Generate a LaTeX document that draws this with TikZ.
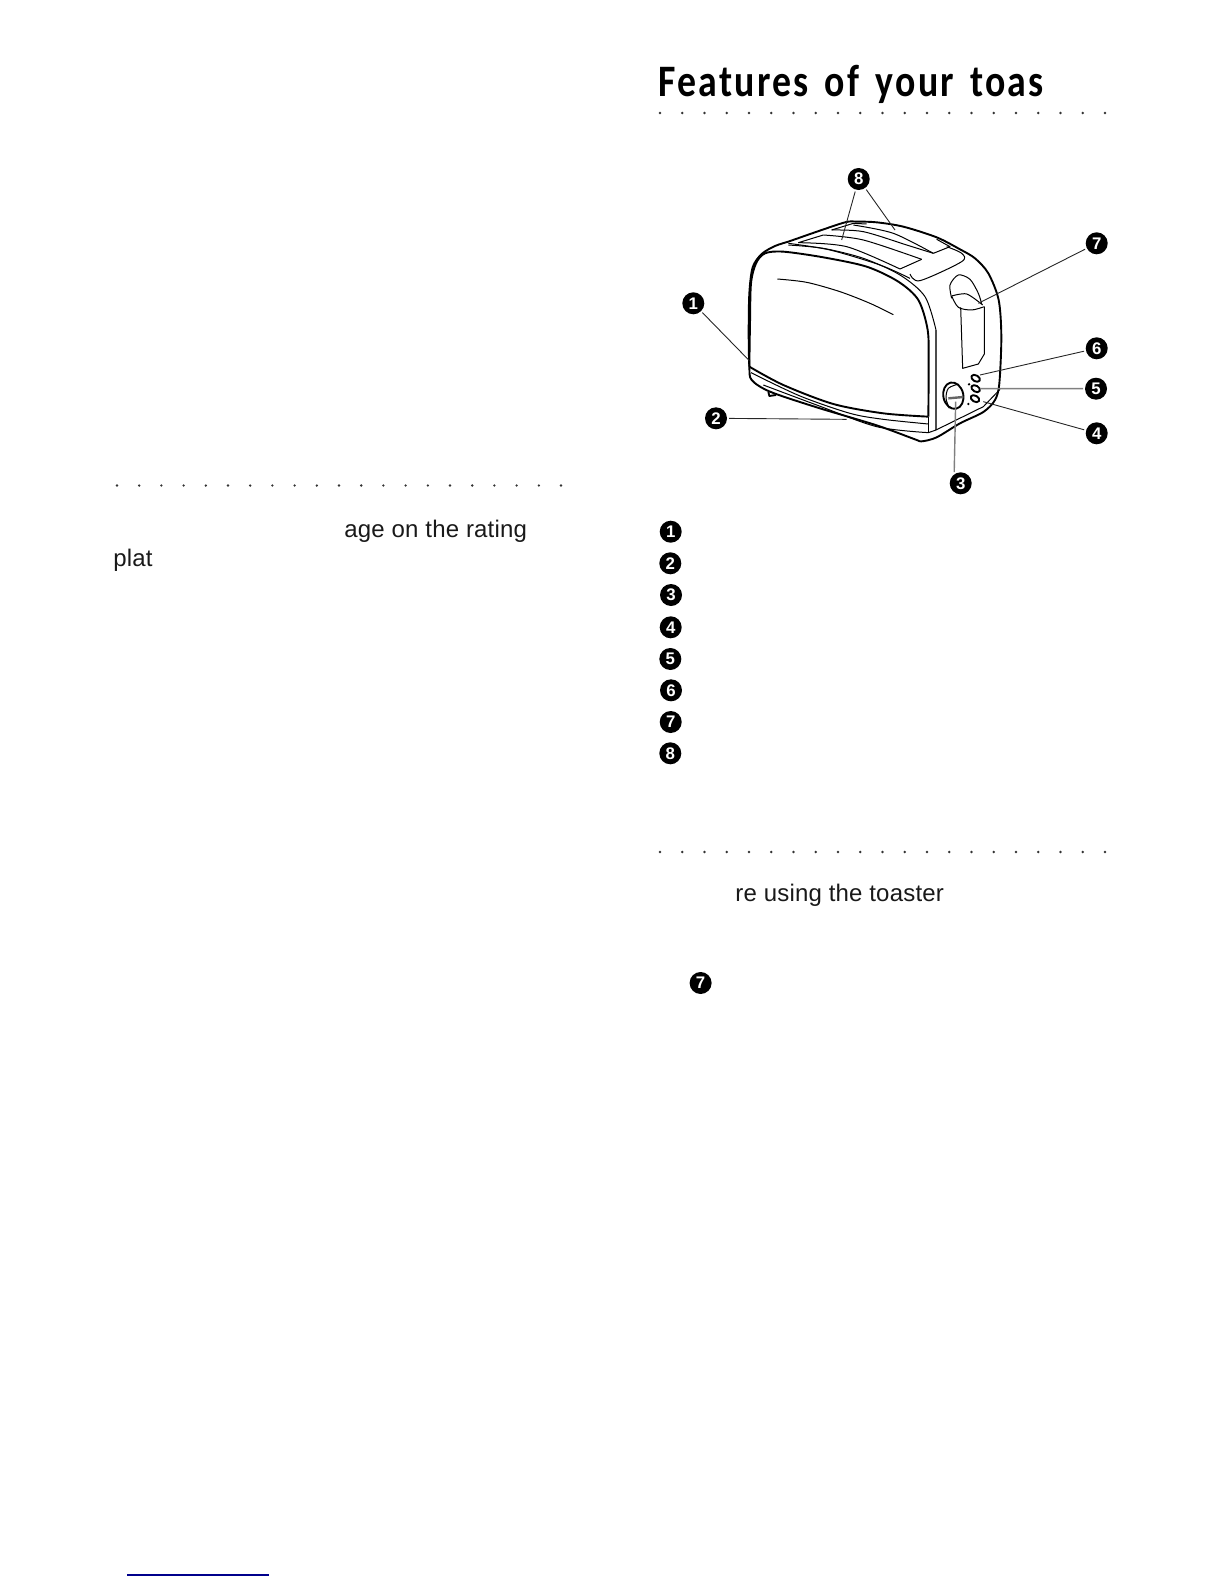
\documentclass[tikz,border=0pt]{standalone}
\usepackage{fontspec}
\setmainfont{Liberation Sans}[LetterSpace=0.8]
\newfontfamily\titlefont[LetterSpace=5,FakeStretch=0.84,WordSpace=1.5]{Carlito}
\tikzset{
  num/.style={circle,fill=black,text=white,inner sep=0pt,minimum size=11pt,outer sep=1pt,font=\bfseries\fontsize{8.4}{9}\selectfont},
  lead/.style={line width=0.45pt,black!85},
  leadgray/.style={line width=0.7pt,black!50},
  body/.style={anchor=base west,inner sep=0pt,text=black!90,font=\fontsize{12}{14}\selectfont},
  outline/.style={line width=0.95pt,line join=round},
  thinline/.style={line width=0.5pt,line join=round},
  dotrow/.style={fill=black!80},
}
\begin{document}
\begin{tikzpicture}[x=0.5pt,y=-0.5pt]
\useasboundingbox (0,0) rectangle (1224,1584);
% title and rows of dots
\node[anchor=base west,inner sep=0pt] (title) at (658,96.7) {\titlefont\bfseries\fontsize{22.5}{24}\selectfont Features of your toas};
\foreach \i in {0,...,20} {
  \fill[dotrow] (660+22.25*\i,113) circle[radius=1.3];
  \fill[dotrow] (660+22.25*\i,852) circle[radius=1.3];
  \fill[dotrow] (117+22.2*\i,485.5) circle[radius=1.3];
}
% left column
\node[body] (rating) at (344,537) {age on the rating};
\node[body] (plat) at (113,566) {plat};
\node[body] (using) at (735,901) {re using the toaster};
\draw[line width=0.9pt,blue!55!black] (127,1575) -- (269,1575);
% toaster
\begin{scope}[shift={(650,150)},scale=1/3]
% body outline
\draw[outline] plot[smooth,tension=0.5] coordinates {(415,275) (375,288) (335,312) (308,352) (298,430) (296,550) (298,650) (305,690) (360,725) (500,772) (680,826) (795,868) (815,874) (860,862) (930,820) (1000,786) (1035,750) (1048,700) (1054,560) (1046,450) (1015,370) (975,325) (930,298) (860,262) (760,230) (680,217) (620,215) (578,219) (415,275)};
% window
\draw[outline] plot[smooth,tension=0.5] coordinates {(835,800) (836,640) (833,540) (805,450) (745,395) (650,350) (520,322) (400,305) (345,310) (318,340) (303,400) (300,520) (298,650)};
\draw[outline] plot[smooth] coordinates {(298,650) (400,705) (550,762) (700,790) (835,800)};
\draw[thinline] plot[smooth] coordinates {(382,387) (470,397) (570,425) (660,460) (730,494)};
% frame
\draw[thinline] plot[smooth] coordinates {(415,285) (520,295) (640,325) (750,375) (825,440) (858,540)};
\draw[line width=0.7pt,black!70] (858,540) -- (858,840);
\draw[thinline] (835,800) -- (835,848);
\draw[thinline] plot[smooth] coordinates {(303,668) (450,738) (600,790) (700,808) (835,822)};
\draw[thinline] plot[smooth] coordinates {(340,705) (500,765) (680,830) (835,848)};
\draw[thinline] (835,848) -- (858,840) -- (1000,770) -- (1050,718);
\draw[outline] (355,725) -- (358,738) -- (378,735);
% top slots
\draw[thinline] plot[smooth] coordinates {(545,240) (640,245) (770,285) (850,310)};
\draw[thinline] (545,240) -- (610,220) -- (650,222);
\draw[thinline] plot[smooth] coordinates {(610,225) (730,250) (850,310)};
\draw[thinline] (850,310) -- (900,290) -- (860,268);
\draw[thinline] (445,278) -- (520,255);
\draw[thinline] plot[smooth] coordinates {(445,278) (590,290) (750,357)};
\draw[thinline] plot[smooth] coordinates {(520,255) (640,270) (815,328)};
\draw[thinline] (815,328) -- (750,357);
\draw[thinline] plot[smooth] coordinates {(415,280) (540,300) (690,345) (780,385)};
\draw[thinline] plot[smooth] coordinates {(780,372) (810,392) (935,335) (935,310) (890,290)};
% lever slot
\draw[thinline] plot[smooth] coordinates {(905,445) (900,405) (925,375) (960,388) (985,430) (995,462)};
\draw[thinline] plot[smooth] coordinates {(905,438) (950,432) (998,465)};
\draw[thinline] plot[smooth] coordinates {(905,438) (925,472) (965,480) (1003,470)};
\draw[thinline] (932,472) -- (938,655) -- (985,642) -- (1003,612) -- (1003,470);
% buttons and knob
\draw[outline] (977,685) ellipse[x radius=14,y radius=9,rotate=-30];
\draw[outline] (977,716) ellipse[x radius=14,y radius=9,rotate=-30];
\draw[outline] (975,746) ellipse[x radius=14,y radius=9,rotate=-30];
\fill (957,703) circle[radius=4];
\fill (955,762) circle[radius=4];
\draw[outline] (910,737) ellipse[x radius=30,y radius=40,rotate=12];
\draw[thinline] plot[smooth] coordinates {(925,702) (895,715) (888,745) (898,775)};
\draw[line width=1.2pt,black!60] (895,745) -- (940,741);
% free ends of the leaders
\coordinate (end1) at (298,632);
\coordinate (end2) at (590,808);
\coordinate (end3) at (917,755);
\coordinate (end4) at (1000,755);
\coordinate (end5) at (990,716);
\coordinate (end6) at (990,675);
\coordinate (end7) at (985,460);
\coordinate (end8a) at (575,270);
\coordinate (end8b) at (735,240);
\end{scope}
% numbers on the picture
\node[num] (n1) at (693.3,303.3) {1};
\node[num] (n2) at (716,418.3) {2};
\node[num] (n3) at (960.7,483.3) {3};
\node[num] (n4) at (1096.7,433.3) {4};
\node[num] (n5) at (1096,388.7) {5};
\node[num] (n6) at (1096.7,348.3) {6};
\node[num] (n7) at (1096.7,243.3) {7};
\node[num] (n8) at (858.7,179) {8};
\draw[lead] (n1) -- (end1);
\draw[lead] (n2) -- (end2);
\draw[leadgray] (n3.120) -- (end3);
\draw[lead] (n4) -- (end4);
\draw[leadgray] (n5) -- (end5);
\draw[lead] (n6) -- (end6);
\draw[lead] (n7) -- (end7);
\draw[lead] (n8) -- (end8a);
\draw[lead] (n8) -- (end8b);
% list of numbers
\foreach \n/\xx/\yy in {1/670.7/531.7,2/670.3/563.3,3/671/595,4/670.7/627.3,5/670.3/659,6/671/690.3,7/670.7/722,8/670.3/753.3} {
  \node[num] (list\n) at (\xx,\yy) {\n};
}
\node[num] (note7) at (700.6,983) {7};
\end{tikzpicture}
\end{document}
